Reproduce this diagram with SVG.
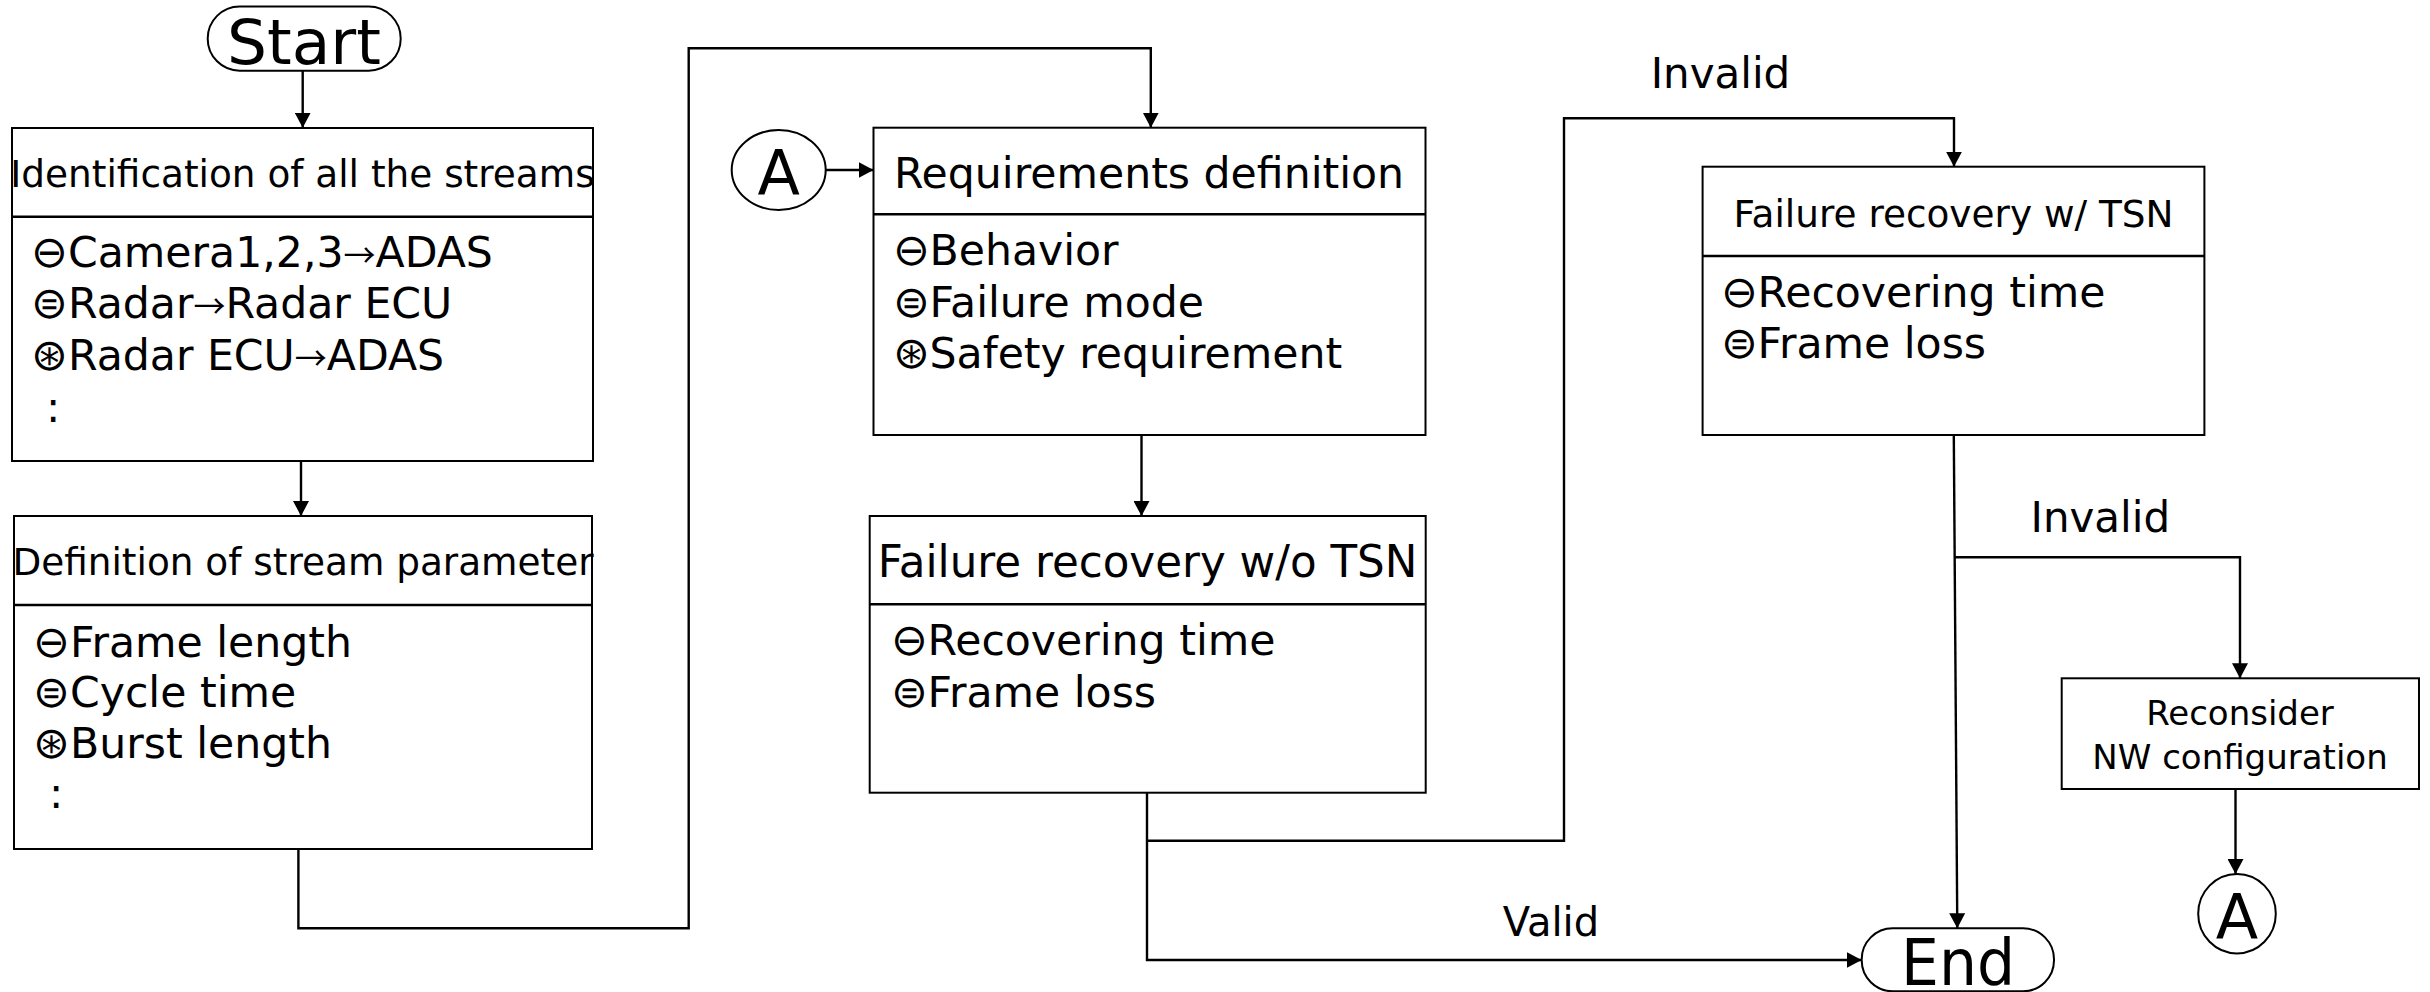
<svg xmlns="http://www.w3.org/2000/svg" width="2430" height="992" viewBox="0 0 2430 992">
  <style>
    text { font-family: "DejaVu Sans", Verdana, sans-serif; fill: #000; }
    .box { fill: #fff; stroke: #000; stroke-width: 2; }
    .div { stroke: #000; stroke-width: 2.4; }
    .conn { fill: none; stroke: #000; stroke-width: 2.4; }
    .hd { font-size: 37.4px; text-anchor: middle; }
    .li { font-size: 42.6px; }
    .sym { font-family: "DejaVu Sans ExtraLight", "DejaVu Sans", sans-serif; font-size: 44px; font-weight: 200; }
    .ar { font-family: "Noto Sans CJK JP", "DejaVu Sans", sans-serif; font-size: 32px; }
    .lbl { font-size: 42px; }
    .term { font-size: 63px; text-anchor: middle; }
    .conn-a { font-size: 62px; text-anchor: middle; }
  </style>
  <defs>
    <marker id="arrow" viewBox="0 0 15 16" refX="15" refY="8" markerWidth="15" markerHeight="16" markerUnits="userSpaceOnUse" orient="auto">
      <path d="M0,0 L15,8 L0,16 Z" fill="#000"/>
    </marker>
  </defs>

  <!-- connectors -->
  <g id="connectors">
    <path class="conn" d="M302.7,71 V127.7" marker-end="url(#arrow)"/>
    <path class="conn" d="M301,461 V516" marker-end="url(#arrow)"/>
    <path class="conn" d="M298.4,849 V928.3 H688.7 V48.3 H1150.8 V127.7" marker-end="url(#arrow)"/>
    <path class="conn" d="M825.7,170 H873.5" marker-end="url(#arrow)"/>
    <path class="conn" d="M1141.5,435 V516" marker-end="url(#arrow)"/>
    <path class="conn" d="M1147,792.7 V960 H1861.7" marker-end="url(#arrow)"/>
    <path class="conn" d="M1147,840.7 H1564 V118.3 H1954 V166.7" marker-end="url(#arrow)"/>
    <path class="conn" d="M1953.8,435 L1957.3,928.3" marker-end="url(#arrow)"/>
    <path class="conn" d="M1954.5,557.3 H2240 V678.3" marker-end="url(#arrow)"/>
    <path class="conn" d="M2235.5,789 V874" marker-end="url(#arrow)"/>
    <text class="lbl" x="1650.7" y="88.3">Invalid</text>
    <text class="lbl" x="2030.5" y="531.7">Invalid</text>
    <text class="lbl" x="1502.7" y="936" style="font-size:40px">Valid</text>
  </g>

  <!-- start terminal -->
  <g id="start">
    <rect class="box" x="207.7" y="6.5" width="193" height="64.2" rx="32" ry="32"/>
    <text class="term" x="304" y="64">Start</text>
  </g>

  <!-- stream identification -->
  <g id="streams">
    <rect class="box" x="12" y="128" width="581" height="333"/>
    <line class="div" x1="12" y1="216.7" x2="593" y2="216.7"/>
    <text class="hd" x="302.5" y="187">Identification of all the streams</text>
    <text class="li" x="31" y="266.7"><tspan class="sym">⊖</tspan>Camera1,2,3<tspan class="ar">→</tspan>ADAS</text>
    <text class="li" x="31" y="318.3"><tspan class="sym">⊜</tspan>Radar<tspan class="ar">→</tspan>Radar ECU</text>
    <text class="li" x="31" y="370"><tspan class="sym">⊛</tspan>Radar ECU<tspan class="ar">→</tspan>ADAS</text>
    <text class="li" x="46" y="421.7">:</text>
  </g>

  <!-- stream parameters -->
  <g id="parameters">
    <rect class="box" x="14" y="516" width="578" height="333"/>
    <line class="div" x1="14" y1="605" x2="592" y2="605"/>
    <text class="hd" x="303" y="575">Definition of stream parameter</text>
    <text class="li" x="33" y="656.7"><tspan class="sym">⊖</tspan>Frame length</text>
    <text class="li" x="33" y="707.3"><tspan class="sym">⊜</tspan>Cycle time</text>
    <text class="li" x="33" y="758.3"><tspan class="sym">⊛</tspan>Burst length</text>
    <text class="li" x="49" y="808.3">:</text>
  </g>

  <!-- connector A (entry) -->
  <g id="connector-a-in">
    <ellipse class="box" cx="778.7" cy="170" rx="47" ry="40"/>
    <text class="conn-a" x="778.7" y="195">A</text>
  </g>

  <!-- requirements -->
  <g id="requirements">
    <rect class="box" x="873.5" y="127.7" width="552" height="307.3"/>
    <line class="div" x1="873.5" y1="214.3" x2="1425.5" y2="214.3"/>
    <text class="hd" x="1149" y="188.3" style="font-size:42.6px">Requirements definition</text>
    <text class="li" x="892.5" y="265"><tspan class="sym">⊖</tspan>Behavior</text>
    <text class="li" x="892.5" y="316.7"><tspan class="sym">⊜</tspan>Failure mode</text>
    <text class="li" x="892.5" y="368.3"><tspan class="sym">⊛</tspan>Safety requirement</text>
  </g>

  <!-- recovery without TSN -->
  <g id="recovery-no-tsn">
    <rect class="box" x="869.7" y="516" width="556" height="276.7"/>
    <line class="div" x1="869.7" y1="604.3" x2="1425.7" y2="604.3"/>
    <text class="hd" x="1147.5" y="576.7" style="font-size:43.6px">Failure recovery w/o TSN</text>
    <text class="li" x="890.5" y="655"><tspan class="sym">⊖</tspan>Recovering time</text>
    <text class="li" x="890.5" y="706.7"><tspan class="sym">⊜</tspan>Frame loss</text>
  </g>

  <!-- recovery with TSN -->
  <g id="recovery-tsn">
    <rect class="box" x="1702.6" y="166.7" width="501.8" height="268.3"/>
    <line class="div" x1="1702.6" y1="256" x2="2204.4" y2="256"/>
    <text class="hd" x="1953.5" y="226.7">Failure recovery w/ TSN</text>
    <text class="li" x="1720.5" y="306.7"><tspan class="sym">⊖</tspan>Recovering time</text>
    <text class="li" x="1720.5" y="358.3"><tspan class="sym">⊜</tspan>Frame loss</text>
  </g>

  <!-- reconsider configuration -->
  <g id="reconsider">
    <rect class="box" x="2061.7" y="678.3" width="357.3" height="110.7"/>
    <text x="2240" y="725" style="font-size:34px;text-anchor:middle">Reconsider</text>
    <text x="2240" y="769" style="font-size:34px;text-anchor:middle">NW configuration</text>
  </g>

  <!-- connector A (exit) -->
  <g id="connector-a-out">
    <ellipse class="box" cx="2237" cy="913.7" rx="38.8" ry="39.7"/>
    <text class="conn-a" x="2237" y="939.3">A</text>
  </g>

  <!-- end terminal -->
  <g id="end">
    <rect class="box" x="1861.7" y="928.3" width="192.3" height="63" rx="31" ry="31"/>
    <text class="term" transform="translate(1958,985) scale(1,1.06)" x="0" y="0" style="font-size:60px">End</text>
  </g>
</svg>
